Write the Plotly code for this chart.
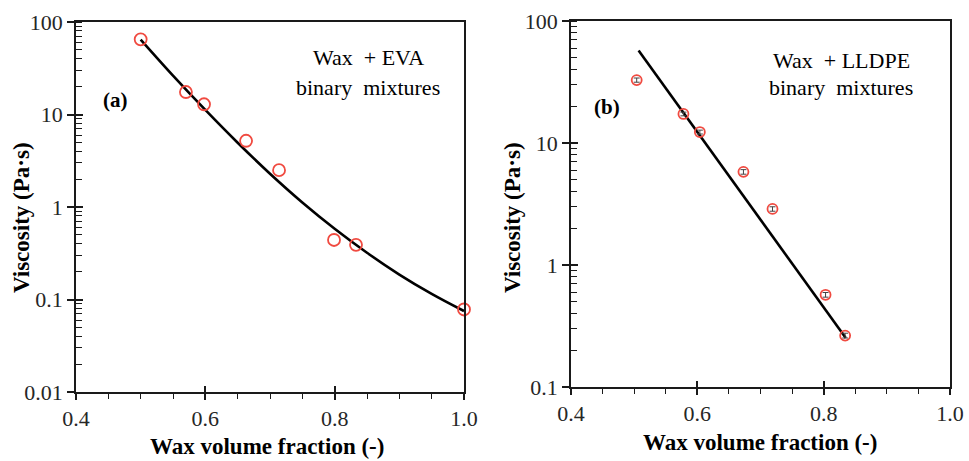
import plotly.graph_objects as go

# ---- data ----
eva_x = [0.500, 0.570, 0.598, 0.663, 0.714, 0.799, 0.833, 1.000]
eva_y = [65.0, 17.5, 12.9, 5.2, 2.5, 0.44, 0.39, 0.078]
eva_fit_x = [0.50, 0.55, 0.60, 0.65, 0.70, 0.75, 0.80, 0.85, 0.90, 0.95, 1.00]
eva_fit_y = [64.5, 26.3, 11.2, 4.95, 2.29, 1.12, 0.582, 0.320, 0.186, 0.115, 0.075]

lldpe_x = [0.504, 0.578, 0.604, 0.673, 0.719, 0.803, 0.834]
lldpe_y = [32.8, 17.3, 12.3, 5.8, 2.88, 0.57, 0.264]
lldpe_err = [1.3, 0.6, 0.45, 0.25, 0.12, 0.025, 0.012]
lldpe_fit_x = [0.507, 0.835]
lldpe_fit_y = [57.4, 0.252]

x_ticks = [0.4, 0.6, 0.8, 1.0]
x_tick_text = ["0.4", "0.6", "0.8", "1.0"]
ya_ticks = [0.01, 0.1, 1, 10, 100]
ya_tick_text = ["0.01", "0.1", "1", "10", "100"]
yb_ticks = [0.1, 1, 10, 100]
yb_tick_text = ["0.1", "1", "10", "100"]

FONT = "Liberation Serif, Times New Roman, serif"
RED = "#f04a40"
AX = "#1a1a1a"
W, H = 969, 461

fig = go.Figure()

# Panel (a)
fig.add_trace(go.Scatter(x=eva_fit_x, y=eva_fit_y, mode="lines",
                         line=dict(color="black", width=2.6, shape="spline", smoothing=1.0),
                         xaxis="x", yaxis="y", showlegend=False, hoverinfo="skip"))
fig.add_trace(go.Scatter(x=eva_x, y=eva_y, mode="markers",
                         marker=dict(symbol="circle-open", size=12, color=RED,
                                     line=dict(width=1.8, color=RED)),
                         xaxis="x", yaxis="y", showlegend=False, cliponaxis=False))
# Panel (b)
fig.add_trace(go.Scatter(x=lldpe_fit_x, y=lldpe_fit_y, mode="lines",
                         line=dict(color="black", width=2.6),
                         xaxis="x2", yaxis="y2", showlegend=False, hoverinfo="skip"))
fig.add_trace(go.Scatter(x=lldpe_x, y=lldpe_y, mode="markers",
                         error_y=dict(type="data", array=lldpe_err, visible=True,
                                      color="#444", thickness=1, width=3),
                         marker=dict(symbol="circle-open", size=10, color=RED,
                                     line=dict(width=1.8, color=RED)),
                         xaxis="x2", yaxis="y2", showlegend=False))
# invisible traces to anchor the overlay axes (inside part of major ticks)
fig.add_trace(go.Scatter(x=[None], y=[None], xaxis="x3", yaxis="y3", showlegend=False))
fig.add_trace(go.Scatter(x=[None], y=[None], xaxis="x4", yaxis="y4", showlegend=False))

dom_ax = [76 / W, 464 / W]
dom_ay = [1 - 392 / H, 1 - 22 / H]
dom_bx = [571 / W, 950 / W]
dom_by = [1 - 387 / H, 1 - 21 / H]

tickfont = dict(family=FONT, size=22, color="#262626")

def xaxis(domain, anchor):
    return dict(domain=domain, anchor=anchor, range=[0.4, 1.0], automargin=False,
                tickvals=x_ticks, ticktext=x_tick_text, ticks="outside", ticklen=6,
                tickwidth=1.5, tickcolor=AX,
                minor=dict(dtick=0.05, tick0=0.4, ticks="outside", ticklen=5,
                           tickwidth=1.3, tickcolor=AX, showgrid=False),
                showline=True, linecolor=AX, linewidth=1.5, mirror=True,
                showgrid=False, zeroline=False, tickfont=tickfont)

def yaxis(domain, anchor, rng, tv, tt):
    return dict(domain=domain, anchor=anchor, type="log", range=rng, automargin=False,
                tickvals=tv, ticktext=tt, ticks="outside", ticklen=7,
                tickwidth=1.5, tickcolor=AX,
                minor=dict(dtick="D1", ticks="inside", ticklen=6, tickwidth=1.2,
                           tickcolor=AX, showgrid=False),
                showline=True, linecolor=AX, linewidth=1.5, mirror=True,
                showgrid=False, zeroline=False, tickfont=tickfont)

def xover(base, anchor):
    return dict(overlaying=base, anchor=anchor, range=[0.4, 1.0], automargin=False,
                tickvals=x_ticks, ticks="inside", ticklen=6, tickwidth=1.5,
                tickcolor=AX, showticklabels=False, showgrid=False,
                zeroline=False, showline=False, side="bottom")

def yover(base, anchor, rng, tv):
    return dict(overlaying=base, anchor=anchor, type="log", range=rng, automargin=False,
                tickvals=tv, ticks="inside", ticklen=7, tickwidth=1.5,
                tickcolor=AX, showticklabels=False, showgrid=False,
                zeroline=False, showline=False, side="left")

fig.update_layout(
    width=W, height=H, margin=dict(l=0, r=0, t=0, b=0),
    paper_bgcolor="white", plot_bgcolor="white",
    xaxis=xaxis(dom_ax, "y"),
    yaxis=yaxis(dom_ay, "x", [-2, 2], ya_ticks, ya_tick_text),
    xaxis2=xaxis(dom_bx, "y2"),
    yaxis2=yaxis(dom_by, "x2", [-1, 2], yb_ticks, yb_tick_text),
    xaxis3=xover("x", "y3"),
    yaxis3=yover("y", "x3", [-2, 2], ya_ticks),
    xaxis4=xover("x2", "y4"),
    yaxis4=yover("y2", "x4", [-1, 2], yb_ticks),
)

def ann(text, x, y, size, bold=False, angle=0):
    fig.add_annotation(text=f"<b>{text}</b>" if bold else text,
                       x=x / W, y=1 - y / H, xref="paper", yref="paper",
                       showarrow=False, xanchor="center", yanchor="middle",
                       textangle=angle,
                       font=dict(family=FONT, size=size, color="black"))

# axis titles
ann("Wax volume fraction (-)", 267, 446, 23, bold=True)
ann("Wax volume fraction (-)", 760, 442, 23, bold=True)
ann("Viscosity (Pa·s)", 21, 218, 23, bold=True, angle=-90)
ann("Viscosity (Pa·s)", 512, 217, 23, bold=True, angle=-90)
# in-plot labels
ann("(a)", 115, 100, 21, bold=True)
ann("(b)", 607, 107, 21, bold=True)
ann("Wax\u00a0\u00a0+ EVA", 368, 57, 22)
ann("binary\u00a0\u00a0mixtures", 368, 88, 22)
ann("Wax\u00a0\u00a0+ LLDPE", 841, 61, 22)
ann("binary\u00a0\u00a0mixtures", 841, 88, 22)

fig.write_html("out.html")
